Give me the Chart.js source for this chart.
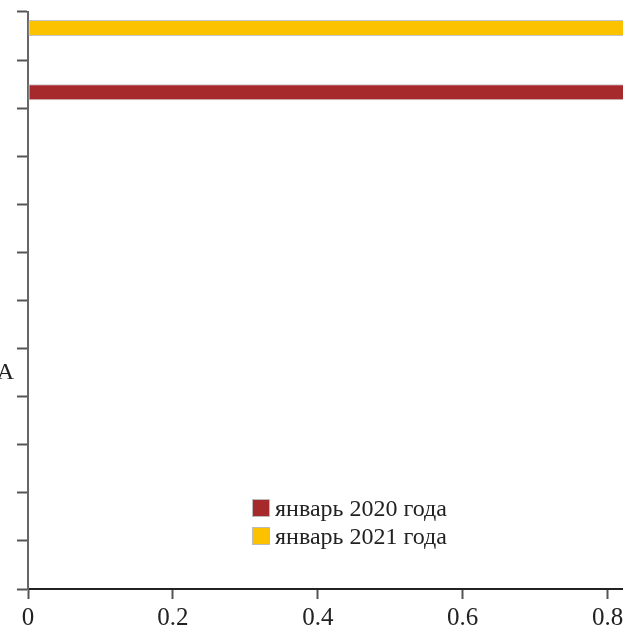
<!DOCTYPE html>
<html>
<head>
<meta charset="utf-8">
<script src="https://cdn.jsdelivr.net/npm/chart.js@4/dist/chart.umd.min.js"></script>
<style>
  body { margin: 0; overflow: hidden; background: #fff; width: 623px; height: 629px; position: relative; }
  #legend { position: absolute; left: 252px; top: 494px; font-family: "Liberation Serif", serif; font-size: 24px; color: #222; }
  #legend div { display: flex; align-items: center; height: 28px; }
  #legend span.box { display: inline-block; width: 18px; height: 18px; margin-right: 5px; border: 1px solid #bbb; box-sizing: border-box; }
</style>
</head>
<body>
<canvas id="chart" width="772" height="629"></canvas>
<div id="legend"></div>
<script>
  // Categories (only one label is visible in the picture)
  const categories = ['', '', '', '', '', '', '', 'A', '', '', '', ''];
  const series2020 = [null, 0.93, null, null, null, null, null, null, null, null, null, null];
  const series2021 = [0.95, null, null, null, null, null, null, null, null, null, null, null];
  const seriesLabels = ['январь 2020 года', 'январь 2021 года'];
  const xTicks = [0, 0.2, 0.4, 0.6, 0.8, 1];

  const red = '#a6292c';
  const yellow = '#fcc200';

  const ctx = document.getElementById('chart').getContext('2d');
  const chart = new Chart(ctx, {
    type: 'bar',
    data: {
      labels: categories,
      datasets: [
        { label: seriesLabels[1], data: series2021, backgroundColor: yellow, borderColor: '#c4c4c4', borderWidth: 1, borderSkipped: false },
        { label: seriesLabels[0], data: series2020, backgroundColor: red, borderColor: '#c4c4c4', borderWidth: 1, borderSkipped: false }
      ]
    },
    options: {
      indexAxis: 'y',
      responsive: false,
      animation: false,
      categoryPercentage: 0.667,
      barPercentage: 1,
      layout: { padding: { top: 9.5, right: 10, left: 0, bottom: 0 } },
      plugins: { legend: { display: false }, tooltip: { enabled: false } },
      scales: {
        x: {
          min: 0, max: 1,
          afterBuildTicks: (scale) => { scale.ticks = xTicks.map(v => ({ value: v })); },
          afterFit: (scale) => { scale.height = 40; },
          border: { color: '#222', width: 2 },
          grid: { drawOnChartArea: false, drawTicks: true, tickLength: 10, tickWidth: 2, color: '#555' },
          ticks: { color: '#222', font: { family: 'Liberation Serif', size: 25 }, padding: 4, maxRotation: 0 }
        },
        y: {
          afterFit: (scale) => { scale.width = 28; },
          border: { color: '#666', width: 2 },
          grid: { drawOnChartArea: false, drawTicks: true, tickLength: 11, tickWidth: 2, color: '#555', offset: true },
          ticks: { color: '#222', font: { family: 'Liberation Serif', size: 24, lineHeight: 0.75 }, padding: 3, autoSkip: false }
        }
      }
    }
  });

  // legend inside the plot, 2020 first
  const legend = document.getElementById('legend');
  [[seriesLabels[0], red], [seriesLabels[1], yellow]].forEach(([txt, col]) => {
    const row = document.createElement('div');
    const box = document.createElement('span');
    box.className = 'box';
    box.style.background = col;
    row.appendChild(box);
    row.appendChild(document.createTextNode(txt));
    legend.appendChild(row);
  });
</script>
</body>
</html>
